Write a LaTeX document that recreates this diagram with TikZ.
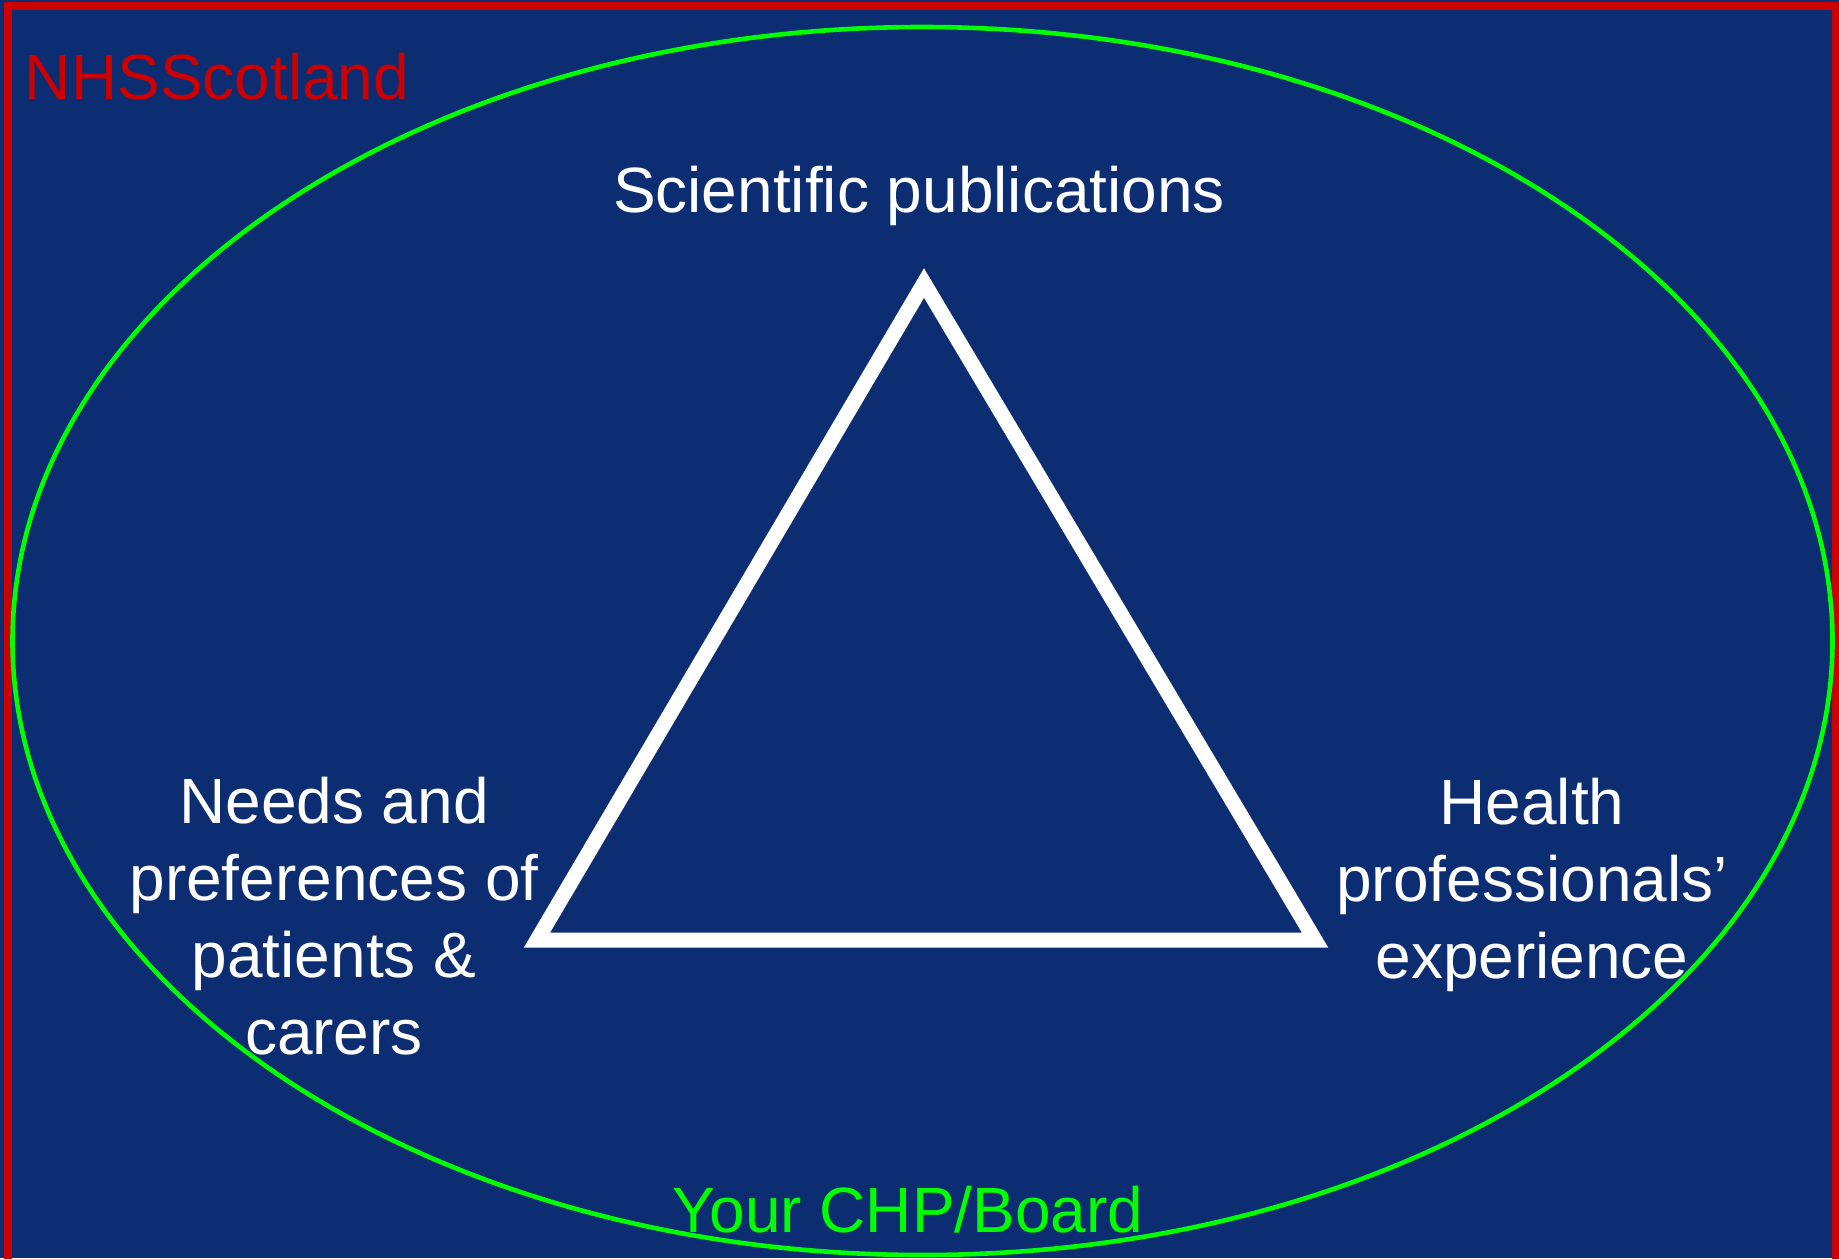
\documentclass[tikz,border=0pt]{standalone}
\usepackage{fontspec}
\setmainfont{Liberation Sans}
\definecolor{navy}{RGB}{12,45,114}
\definecolor{nhsred}{RGB}{204,0,0}
\definecolor{chpgreen}{RGB}{0,255,0}
\begin{document}
\begin{tikzpicture}[x=0.5pt,y=-0.5pt,
  lbl/.style={inner sep=0pt, outer sep=0pt, font=\fontsize{32}{38.4}\selectfont, align=center},
  whitelbl/.style={lbl, text=white}]
\useasboundingbox (0,0) rectangle (1839,1258);
\clip (0,0) rectangle (1839,1258);
\fill[navy] (0,0) rectangle (1839,1258);
% outer red frame
\draw[nhsred, line width=4pt] (8,6) rectangle (1836,1290);
% green ellipse
\draw[chpgreen, line width=2.3pt] (922.5,641) ellipse [x radius=910, y radius=614];
% triangle
\coordinate (top) at (924,283);
\coordinate (bl) at (537,940);
\coordinate (br) at (1315,940);
\draw[white, line width=7.5pt, miter limit=10] (top) -- (bl) -- (br) -- cycle;
% labels
\node[lbl, text=nhsred, anchor=base west] (nhs) at (25,99) {NHSScotland};
\node[lbl, text=chpgreen, anchor=base] (chp) at (908,1232) {Your CHP/Board};
\node[whitelbl, anchor=base] (sci) at (919,212) {Scientific publications};
\node[whitelbl, anchor=base] (needs) at (334,1054) {Needs and\\preferences of\\patients \&\\carers};
\node[whitelbl, anchor=base] (health) at (1532,978) {Health\\professionals’\\experience};
\end{tikzpicture}
\end{document}
